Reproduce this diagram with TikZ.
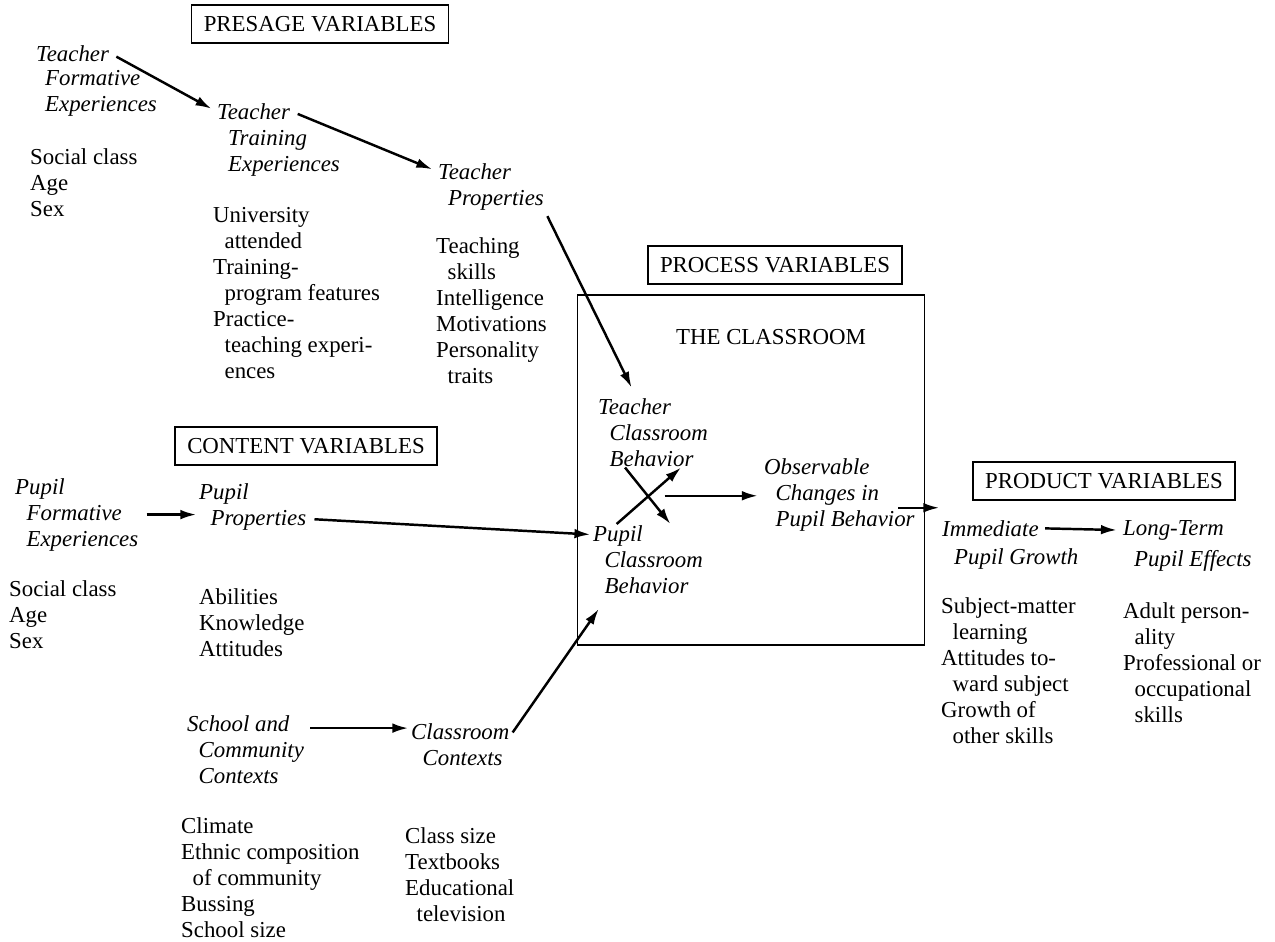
\documentclass[tikz,border=0pt]{standalone}
\usepackage{fontspec}
\setmainfont{Liberation Serif}
\usetikzlibrary{positioning,calc,arrows.meta}
\newcommand\dbfont{\fontsize{13}{14.8}\selectfont}
\newcommand\indt{\hspace*{0.5em}}

\begin{document}
\begin{tikzpicture}[
  x=0.02cm, y=-0.02cm,
  every node/.style={inner sep=0pt, anchor=north west, align=left, font=\dbfont},
  var/.style={font=\dbfont\itshape},
  head/.style={draw, line width=1pt, anchor=center, inner xsep=7pt, minimum height=0.76cm},
  room/.style={draw, line width=1pt, anchor=center, minimum width=6.94cm, minimum height=7cm},
  every path/.style={line width=1.4pt, >={Latex[length=9pt,width=5.5pt]}},
  ]
  \useasboundingbox (0,0) rectangle (1275,942);
  % presage variables
  \node[head] (h1) at (320,24) {PRESAGE VARIABLES};
  \node[var] (n11) at (35,44) {Teacher};
  \node[var] (n11b) at (44,69) {Formative\\Experiences};
  \node (l11) at (29,147) {Social class\\Age\\Sex};
  \node[var] (n12) at (216,102) {Teacher};
  \node[var] (n12b) at (227,129) {Training\\Experiences};
  \node (l12) at (212,206) {University\\\indt attended\\Training-\\\indt program features\\Practice-\\\indt teaching experi-\\\indt ences};
  \node[var] (n13) at (437,162) {Teacher};
  \node[var] (n13b) at (447,189) {Properties};
  \node (l13) at (435,236) {Teaching\\\indt skills\\Intelligence\\Motivations\\Personality\\\indt traits};
  % content variables
  \node[head] (h2) at (306,446) {CONTENT VARIABLES};
  \node[var] (n21) at (14,477) {Pupil\\\indt Formative\\\indt Experiences};
  \node (l21) at (8,579) {Social class\\Age\\Sex};
  \node[var] (n22) at (198,482) {Pupil\\\indt Properties};
  \node (l22) at (198,587) {Abilities\\Knowledge\\Attitudes};
  \node[var] (n31) at (186,714) {School and\\\indt Community\\\indt Contexts};
  \node (l31) at (180,816) {Climate\\Ethnic composition\\\indt of community\\Bussing\\School size};
  \node[var] (n32) at (410,722) {Classroom\\\indt Contexts};
  \node (l32) at (404,826) {Class size\\Textbooks\\Educational\\\indt television};
  % process variables
  \node[head] (h3) at (775,265) {PROCESS VARIABLES};
  \node[room] (room) at (751,470) {};
  \node[anchor=center] (t4) at (771,337) {THE CLASSROOM};
  \node[var] (n41) at (597,397) {Teacher\\\indt Classroom\\\indt Behavior};
  \node[var] (n42) at (592,524) {Pupil\\\indt Classroom\\\indt Behavior};
  \node[var] (n43) at (763,457) {Observable\\\indt Changes in\\\indt Pupil Behavior};
  % product variables
  \node[head] (h4) at (1104,481) {PRODUCT VARIABLES};
  \node[var] (n51) at (941,519) {Immediate};
  \node[var] (n51b) at (953,547) {Pupil Growth};
  \node (l51) at (940,596) {Subject-matter\\\indt learning\\Attitudes to-\\\indt ward subject\\Growth of\\\indt other skills};
  \node[var] (n52) at (1122,519) {Long-Term};
  \node[var] (n52b) at (1133,549) {Pupil Effects};
  \node (l52) at (1122,601) {Adult person-\\\indt ality\\Professional or\\\indt occupational\\\indt skills};
  \coordinate (c1) at ($(n41.south)!.5!(n42.north)$);
  \coordinate (c6) at ($(n31.north east)!.2!(n31.south east)$);
  \coordinate (c10) at ($(n43.east)!.35!(n43.south east)$);
  \path[->]
  (n11.east) edge[shorten <=4pt, shorten >=3pt] (n12.west)
  (n12.east) edge[shorten <=4pt, shorten >=3pt] (n13.west)
  (n13b.south east) edge[shorten <=3pt, shorten >=6pt] ($(n41.north west)!.35!(n41.north east)$)
  (n21.east) edge[shorten <=4pt, shorten >=1pt] (n21.east -| n22.west)
  ($(n22.east)!.5!(n22.south east)$) edge[shorten <=4pt, shorten >=1pt] ($(n42.north west)!.15!(n42.south west)$)
  (c6) edge[shorten <=3pt, shorten >=1pt] (c6 -| n32.west)
  ($(n32.north east)!.3!(n32.south east)$) edge[shorten <=2pt, shorten >=10pt] ($(n42.south west)!.15!(n42.south east)$)
  ($(n41.south west)!.25!(n41.south east)$) edge ($(n42.north west)!.7!(n42.north east)$)
  ($(n42.north west)!.22!(n42.north east)$) edge ($(n41.south west)!.75!(n41.south east)$)
  (c1) edge[shorten <=8pt, shorten >=3pt] (c1 -| n43.west)
  (c10) edge[shorten <=-10pt, shorten >=1pt] (c10 -| n51.west)
  (n51.east) edge[shorten <=3pt, shorten >=3pt] (n52.west);
\end{tikzpicture}
\end{document}
